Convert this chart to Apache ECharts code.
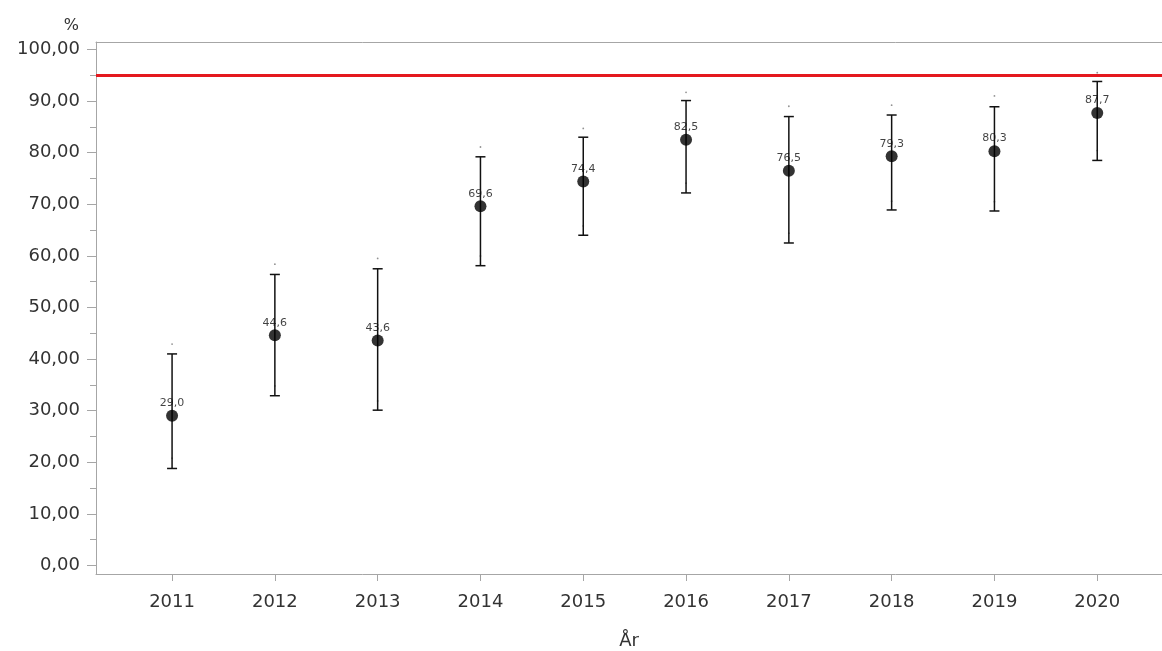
<!DOCTYPE html>
<html>
<head>
<meta charset="utf-8">
<script src="https://cdn.jsdelivr.net/npm/echarts@6/dist/echarts.min.js"></script>
<style>
  html, body { margin: 0; padding: 0; background: #fff; }
  #chart { width: 1162px; height: 651px; }
</style>
</head>
<body>
<div id="chart"></div>
<script>
// Yearly share (%) with 95% confidence intervals and a 95 % target line
const years = [2011, 2012, 2013, 2014, 2015, 2016, 2017, 2018, 2019, 2020];
const shares = [29.0, 44.6, 43.6, 69.6, 74.4, 82.5, 76.5, 79.3, 80.3, 87.7];
const ciLower = [18.8, 32.9, 30.1, 58.1, 64.0, 72.2, 62.5, 68.9, 68.7, 78.5];
const ciUpper = [41.0, 56.4, 57.5, 79.2, 83.0, 90.1, 87.0, 87.3, 88.9, 93.8];
const outerHigh = [42.9, 58.4, 59.5, 81.1, 84.7, 91.7, 89.0, 89.2, 91.0, 95.5];
const outerLow = [20.8, 34.8, 31.9, 60.0, 65.8, 74.1, 64.4, 70.6, 70.5, 80.4];
const targetLevel = 95;
const yTicks = [0, 10, 20, 30, 40, 50, 60, 70, 80, 90, 100];
const yMinorTicks = [5, 15, 25, 35, 45, 55, 65, 75, 85, 95];

const FONT = 'DejaVu Sans';
const AXIS_GRAY = '#a6a6a6';
const comma = (v, d) => v.toFixed(d).replace('.', ',');

const chart = echarts.init(document.getElementById('chart'), null, { renderer: 'canvas' });

const pointData = years.map((y, i) => [y, shares[i]]);
const barData = years.map((y, i) => [y, ciLower[i], ciUpper[i]]);
const dotData = years.flatMap((y, i) => [[y, outerHigh[i]], [y, outerLow[i]]]);

const xRange = { min: 2010.26, max: 2020.63 };
const yRange = { min: -1.65, max: 101.45 };

chart.setOption({
  animation: false,
  backgroundColor: '#fff',
  grid: {
    left: 96, right: 0, top: 42, bottom: 77,
    outerBoundsMode: 'none',
    containLabel: false,
    show: false
  },
  xAxis: [
    {
      type: 'value',
      ...xRange,
      name: 'År',
      nameLocation: 'middle',
      nameGap: 58,
      nameTextStyle: { fontFamily: FONT, fontSize: 18, color: '#333' },
      axisLine: { show: true, onZero: false, lineStyle: { color: AXIS_GRAY, width: 1 } },
      axisTick: { show: true, customValues: years, length: 7, lineStyle: { color: AXIS_GRAY } },
      axisLabel: {
        customValues: years, margin: 19,
        fontFamily: FONT, fontSize: 18, color: '#333',
        formatter: v => String(Math.round(v))
      },
      splitLine: { show: false }
    },
    {
      // top frame line
      type: 'value',
      ...xRange,
      position: 'top',
      axisLine: { show: true, onZero: false, lineStyle: { color: AXIS_GRAY, width: 1 } },
      axisTick: { show: false },
      axisLabel: { show: false },
      splitLine: { show: false }
    }
  ],
  yAxis: [
    {
      type: 'value',
      ...yRange,
      name: '%',
      nameLocation: 'end',
      nameGap: 8,
      nameTextStyle: { fontFamily: FONT, fontSize: 16, color: '#333', align: 'right', padding: [0, 17, 0, 0] },
      axisLine: { show: true, onZero: false, lineStyle: { color: AXIS_GRAY, width: 1 } },
      axisTick: { show: true, customValues: yTicks, length: 9, lineStyle: { color: AXIS_GRAY } },
      axisLabel: {
        customValues: yTicks, margin: 16,
        fontFamily: FONT, fontSize: 18, color: '#333',
        formatter: v => comma(v, 2)
      },
      splitLine: { show: false }
    },
    {
      type: 'value',
      ...yRange,
      position: 'left',
      axisLine: { show: false, onZero: false },
      axisTick: { show: true, customValues: yMinorTicks, length: 6, lineStyle: { color: AXIS_GRAY } },
      axisLabel: { show: false },
      splitLine: { show: false }
    }
  ],
  series: [
    {
      // confidence-interval whiskers
      type: 'custom',
      data: barData,
      z: 3,
      renderItem: (params, api) => {
        const x = api.value(0);
        const lo = api.coord([x, api.value(1)]);
        const hi = api.coord([x, api.value(2)]);
        const half = 5;
        const style = { stroke: '#111', lineWidth: 1.5 };
        return {
          type: 'group',
          children: [
            { type: 'line', shape: { x1: lo[0], y1: lo[1], x2: hi[0], y2: hi[1] }, style },
            { type: 'line', shape: { x1: hi[0] - half, y1: hi[1], x2: hi[0] + half, y2: hi[1] }, style },
            { type: 'line', shape: { x1: lo[0] - half, y1: lo[1], x2: lo[0] + half, y2: lo[1] }, style }
          ]
        };
      },
      markLine: {
        silent: true,
        symbol: 'none',
        label: { show: false },
        lineStyle: { color: '#e4181e', width: 3, type: 'solid' },
        data: [{ yAxis: targetLevel }]
      }
    },
    {
      // faint outer markers
      type: 'scatter',
      data: dotData,
      symbol: 'circle',
      symbolSize: 1.8,
      itemStyle: { color: '#777' },
      z: 2
    },
    {
      type: 'scatter',
      data: pointData,
      symbol: 'circle',
      symbolSize: 12,
      itemStyle: { color: '#000' },
      z: 4,
      label: {
        show: true,
        position: 'top',
        distance: 1,
        fontFamily: FONT,
        fontSize: 11,
        color: '#111',
        formatter: p => comma(p.value[1], 1)
      }
    }
  ]
});
</script>
</body>
</html>
